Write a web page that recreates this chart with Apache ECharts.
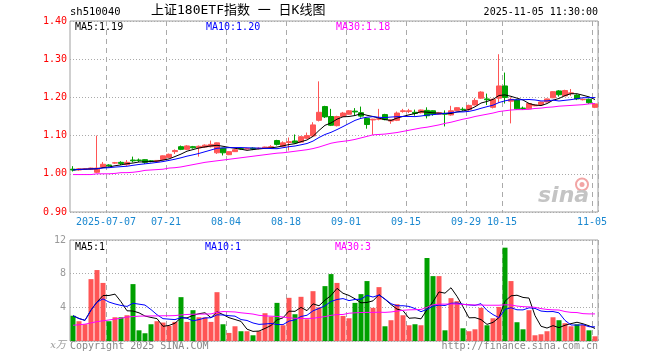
<!DOCTYPE html>
<html><head><meta charset="utf-8">
<script src="https://cdn.jsdelivr.net/npm/echarts@6/dist/echarts.min.js"></script>
<style>html,body{margin:0;padding:0;background:#fff}#c{width:660px;height:360px}</style>
</head><body><div id="c"></div>
<script>
const dates = [
'2025-06-27','2025-06-30',
'2025-07-01','2025-07-02','2025-07-03','2025-07-04','2025-07-07','2025-07-08','2025-07-09','2025-07-10','2025-07-11',
'2025-07-14','2025-07-15','2025-07-16','2025-07-17','2025-07-18','2025-07-21','2025-07-22','2025-07-23','2025-07-24','2025-07-25',
'2025-07-28','2025-07-29','2025-07-30','2025-07-31',
'2025-08-01','2025-08-04','2025-08-05','2025-08-06','2025-08-07','2025-08-08','2025-08-11','2025-08-12','2025-08-13','2025-08-14',
'2025-08-15','2025-08-18','2025-08-19','2025-08-20','2025-08-21','2025-08-22','2025-08-25','2025-08-26','2025-08-27','2025-08-28','2025-08-29',
'2025-09-01','2025-09-02','2025-09-03','2025-09-04','2025-09-05','2025-09-08','2025-09-09','2025-09-10','2025-09-11','2025-09-12',
'2025-09-15','2025-09-16','2025-09-17','2025-09-18','2025-09-19','2025-09-22','2025-09-23','2025-09-24','2025-09-25','2025-09-26',
'2025-09-29','2025-09-30',
'2025-10-09','2025-10-10','2025-10-13','2025-10-14','2025-10-15','2025-10-16','2025-10-17','2025-10-20','2025-10-21','2025-10-22',
'2025-10-23','2025-10-24','2025-10-27','2025-10-28','2025-10-29','2025-10-30','2025-10-31',
'2025-11-03','2025-11-04','2025-11-05'];

const opens = [1.012,1.010,1.012,1.012,1.004,1.018,1.023,1.028,1.030,1.024,
1.036,1.036,1.037,1.034,1.032,1.037,1.043,1.058,1.071,1.064,
1.071,1.068,1.070,1.071,1.055,1.067,1.050,1.058,1.066,1.065,
1.067,1.066,1.067,1.067,1.087,1.072,1.082,1.086,1.083,1.093,
1.099,1.140,1.176,1.150,1.126,1.150,1.156,1.164,1.160,1.145,
1.141,1.143,1.155,1.138,1.140,1.163,1.163,1.161,1.160,1.166,
1.165,1.156,1.158,1.154,1.166,1.169,1.168,1.180,1.198,1.196,
1.174,1.198,1.230,1.190,1.193,1.172,1.170,1.178,1.181,1.188,
1.199,1.217,1.204,1.210,1.206,1.194,1.195,1.174];
const closes = [1.010,1.013,1.013,1.015,1.015,1.025,1.021,1.029,1.027,1.030,
1.034,1.035,1.030,1.032,1.035,1.047,1.051,1.061,1.064,1.073,
1.068,1.072,1.075,1.077,1.081,1.055,1.058,1.063,1.065,1.066,
1.065,1.067,1.070,1.071,1.077,1.081,1.084,1.081,1.097,1.100,
1.128,1.161,1.149,1.127,1.150,1.159,1.165,1.162,1.151,1.129,
1.143,1.144,1.142,1.141,1.159,1.165,1.165,1.158,1.167,1.152,
1.156,1.160,1.156,1.165,1.173,1.168,1.179,1.192,1.214,1.194,
1.195,1.230,1.200,1.195,1.170,1.171,1.184,1.180,1.188,1.196,
1.215,1.207,1.218,1.212,1.196,1.195,1.186,1.183];
const lows = [1.006,1.008,1.011,1.010,1.002,1.016,1.019,1.026,1.023,1.021,
1.030,1.031,1.026,1.030,1.031,1.036,1.041,1.052,1.062,1.062,
1.066,1.045,1.068,1.069,1.052,1.048,1.049,1.057,1.063,1.064,
1.062,1.064,1.066,1.066,1.074,1.071,1.061,1.079,1.082,1.091,
1.097,1.137,1.146,1.125,1.124,1.149,1.155,1.152,1.147,1.118,
1.102,1.140,1.140,1.131,1.138,1.160,1.159,1.152,1.158,1.145,
1.152,1.155,1.124,1.152,1.165,1.165,1.165,1.179,1.196,1.180,
1.171,1.186,1.184,1.132,1.168,1.167,1.169,1.177,1.180,1.187,
1.198,1.202,1.203,1.204,1.193,1.192,1.183,1.172];
const highs = [1.020,1.015,1.015,1.016,1.100,1.031,1.025,1.031,1.033,1.036,
1.045,1.040,1.038,1.036,1.036,1.048,1.053,1.064,1.074,1.075,
1.073,1.074,1.077,1.087,1.082,1.068,1.059,1.065,1.068,1.068,
1.069,1.069,1.071,1.075,1.089,1.085,1.095,1.103,1.099,1.108,
1.135,1.242,1.178,1.170,1.152,1.162,1.167,1.172,1.176,1.146,
1.144,1.170,1.157,1.142,1.163,1.170,1.170,1.168,1.168,1.174,
1.166,1.162,1.166,1.178,1.174,1.174,1.181,1.198,1.216,1.210,
1.197,1.313,1.265,1.200,1.195,1.176,1.186,1.182,1.189,1.197,
1.216,1.219,1.220,1.222,1.208,1.197,1.197,1.185];
// volume, unit: 万 (x10k lots)
const volumes = [3.0,2.35,2.0,7.35,8.43,6.9,2.35,2.82,2.82,3.06,
6.76,1.27,0.92,1.99,2.35,2.19,1.79,2.27,5.21,2.27,
3.66,2.82,2.82,2.27,5.8,1.99,0.96,1.75,1.16,1.16,
0.68,1.16,3.3,2.9,4.53,1.87,5.13,3.18,5.25,2.59,
5.92,4.0,6.52,7.95,6.9,2.98,2.7,4.53,5.57,7.12,
3.94,6.4,1.75,2.47,4.37,3.06,1.87,1.99,1.87,9.86,
7.71,7.71,1.27,5.09,4.73,1.51,1.16,1.39,3.94,1.87,
2.7,4.05,11.09,7.12,2.23,1.39,3.66,0.68,0.8,1.16,
2.82,2.47,2.11,1.75,1.99,1.9,1.27,0.56];
// MA30 lines (need history before the window)
const priceMA30 = [0.998,0.998,0.998,0.998,1.000,1.000,1.000,1.001,1.003,1.003,
1.004,1.006,1.009,1.010,1.011,1.012,1.015,1.016,1.018,1.021,
1.024,1.027,1.030,1.032,1.034,1.036,1.038,1.040,1.042,1.044,
1.046,1.048,1.050,1.052,1.054,1.055,1.057,1.059,1.061,1.063,
1.066,1.070,1.075,1.080,1.083,1.085,1.087,1.090,1.094,1.098,
1.102,1.103,1.104,1.106,1.108,1.111,1.114,1.117,1.120,1.122,
1.125,1.128,1.132,1.135,1.139,1.143,1.146,1.150,1.153,1.156,
1.159,1.163,1.165,1.167,1.168,1.168,1.169,1.171,1.172,1.174,
1.175,1.177,1.178,1.179,1.180,1.181,1.183,1.184];
const volMA30 = [1.87,1.93,2.0,2.15,2.3,2.4,2.5,2.6,2.7,2.85,
2.9,2.95,2.97,2.98,2.98,3.0,3.0,3.02,3.1,3.15,
3.18,3.2,3.2,3.22,3.4,3.5,3.48,3.45,3.35,3.28,
3.2,3.05,2.98,2.95,2.92,2.85,2.75,2.7,2.68,2.68,
2.7,2.8,2.9,3.05,3.14,3.15,3.3,3.35,3.38,3.4,
3.4,3.42,3.4,3.45,3.55,3.65,3.7,3.72,3.75,4.0,
4.3,4.38,4.38,4.4,4.38,4.35,4.3,4.28,4.27,4.25,
4.25,4.25,4.3,4.28,4.15,4.08,4.05,4.0,3.85,3.75,
3.7,3.68,3.5,3.4,3.38,3.25,3.22,3.22];
const tickDates = ['2025-07-07','2025-07-21','2025-08-04','2025-08-18','2025-09-01','2025-09-15','2025-09-29','2025-10-15','2025-11-05'];
const tickLabels = ['2025-07-07','07-21','08-04','08-18','09-01','09-15','09-29','10-15','11-05'];
const priceTicks = [0.9, 1.4, 0.1];
const volTicks = [0, 12, 4];

function movingAvg(arr, n) {
  return arr.map((_, i) => {
    const s = Math.max(0, i - n + 1);
    let sum = 0;
    for (let k = s; k <= i; k++) sum += arr[k];
    return +(sum / (i - s + 1)).toFixed(4);
  });
}
const ma5 = movingAvg(closes, 5), ma10 = movingAvg(closes, 10);
const vma5 = movingAvg(volumes, 5), vma10 = movingAvg(volumes, 10);

const FONT = '"DejaVu Sans Mono", "Liberation Mono", monospace';
const RED = '#ff5555', GREEN = '#00a000';
const labelMap = {};
tickDates.forEach((d, i) => labelMap[d] = tickLabels[i]);
const labelIdx = new Set(tickDates.map(d => dates.indexOf(d)));
const showIdx = (i) => labelIdx.has(i);

const chart = echarts.init(document.getElementById('c'), null, {renderer: 'canvas'});
const last = a => a[a.length - 1];

const xBase = (gi, withLabel) => ({
  type: 'category', gridIndex: gi, data: dates, boundaryGap: true,
  axisLine: {show: false}, axisTick: {show: false},
  axisLabel: withLabel ? {
    interval: showIdx, formatter: v => labelMap[v] || '',
    color: '#1a88d0', fontFamily: FONT, fontSize: 10, margin: 5, padding: [0, 6, 0, 0]
  } : {show: false},
  splitLine: {show: true, interval: showIdx, lineStyle: {color: '#aaaaaa', width: 1, type: [5, 4]}}
});

const option = {
  animation: false,
  backgroundColor: '#ffffff',
  grid: [
    {left: 70, top: 21, width: 528, height: 191, show: true, borderColor: '#a0a0a0', borderWidth: 1},
    {left: 70, top: 240, width: 528, height: 101, show: true, borderColor: '#a0a0a0', borderWidth: 1}
  ],
  xAxis: [xBase(0, true), xBase(1, false)],
  yAxis: [
    {type: 'value', gridIndex: 0, min: priceTicks[0], max: priceTicks[1], interval: priceTicks[2],
     axisLine: {show: false}, axisTick: {show: false},
     axisLabel: {color: '#ff0000', fontFamily: FONT, fontSize: 10, margin: 3, formatter: v => v.toFixed(2)},
     splitLine: {lineStyle: {color: '#aaaaaa', type: [1, 2]}}},
    {type: 'value', gridIndex: 1, min: volTicks[0], max: volTicks[1], interval: volTicks[2],
     axisLine: {show: false}, axisTick: {show: false},
     axisLabel: {color: '#999999', fontFamily: FONT, fontSize: 10, margin: 4,
       formatter: v => v === 0 ? '{u|x万}' : String(v),
       rich: {u: {color: '#999999', fontStyle: 'italic', fontSize: 10, fontFamily: '"DejaVu Serif", "Noto Sans CJK SC", serif', padding: [8, 0, 0, 0]}}},
     splitLine: {lineStyle: {color: '#aaaaaa', type: [1, 2]}}}
  ],
  series: [
    {type: 'candlestick', xAxisIndex: 0, yAxisIndex: 0, barWidth: 5,
     data: dates.map((d, i) => [opens[i], closes[i], lows[i], highs[i]]),
     itemStyle: {color: RED, color0: GREEN, borderColor: RED, borderColor0: GREEN, borderWidth: 1}},
    {type: 'line', xAxisIndex: 0, yAxisIndex: 0, data: ma5, showSymbol: false, lineStyle: {color: '#000000', width: 1}},
    {type: 'line', xAxisIndex: 0, yAxisIndex: 0, data: ma10, showSymbol: false, lineStyle: {color: '#0000ff', width: 1}},
    {type: 'line', xAxisIndex: 0, yAxisIndex: 0, data: priceMA30, showSymbol: false, lineStyle: {color: '#ff00ff', width: 1}},
    {type: 'bar', xAxisIndex: 1, yAxisIndex: 1, barWidth: 5,
     data: volumes.map((v, i) => ({value: v, itemStyle: {color: closes[i] >= opens[i] ? RED : GREEN}}))},
    {type: 'line', xAxisIndex: 1, yAxisIndex: 1, data: vma5, showSymbol: false, lineStyle: {color: '#000000', width: 1}},
    {type: 'line', xAxisIndex: 1, yAxisIndex: 1, data: vma10, showSymbol: false, lineStyle: {color: '#0000ff', width: 1}},
    {type: 'line', xAxisIndex: 1, yAxisIndex: 1, data: volMA30, showSymbol: false, lineStyle: {color: '#ff00ff', width: 1}}
  ],
  graphic: [
    {type: 'text', left: 70, top: 7, z: 10, style: {text: 'sh510040', fill: '#000', font: '10.5px ' + FONT}},
    {type: 'text', left: 151, top: 4, z: 10, style: {text: '上证180ETF指数 一 日K线图', fill: '#000', font: '13px "DejaVu Sans Mono", "Noto Sans CJK SC", monospace'}},
    {type: 'text', right: 62, top: 7, z: 10, style: {text: '2025-11-05 11:30:00', fill: '#000', font: '10px ' + FONT}},
    {type: 'text', left: 75, top: 22, z: 10, style: {text: 'MA5:' + last(ma5).toFixed(2), fill: '#000', font: '10px ' + FONT}},
    {type: 'text', left: 206, top: 22, z: 10, style: {text: 'MA10:' + last(ma10).toFixed(2), fill: '#0000ff', font: '10px ' + FONT}},
    {type: 'text', left: 336, top: 22, z: 10, style: {text: 'MA30:' + last(priceMA30).toFixed(2), fill: '#ff00ff', font: '10px ' + FONT}},
    {type: 'text', left: 75, top: 242, z: 10, style: {text: 'MA5:' + Math.floor(last(vma5)), fill: '#000', font: '10px ' + FONT}},
    {type: 'text', left: 205, top: 242, z: 10, style: {text: 'MA10:' + Math.floor(last(vma10)), fill: '#0000ff', font: '10px ' + FONT}},
    {type: 'text', left: 335, top: 242, z: 10, style: {text: 'MA30:' + Math.floor(last(volMA30)), fill: '#ff00ff', font: '10px ' + FONT}},
    {type: 'text', left: 70, top: 341, z: 10, style: {text: 'Copyright 2025 SINA.COM', fill: '#888888', font: '10px ' + FONT}},
    {type: 'text', right: 62, top: 341, z: 10, style: {text: 'http://finance.sina.com.cn', fill: '#888888', font: '10px ' + FONT}},
    {type: 'group', left: 538, top: 176, z: 0, children: [
      {type: 'circle', shape: {cx: 44, cy: 9, r: 6}, style: {fill: 'none', stroke: '#f2a5a5', lineWidth: 2}},
      {type: 'circle', shape: {cx: 44, cy: 9, r: 2.5}, style: {fill: '#f2a5a5'}},
      {type: 'text', x: 0, y: 10, style: {text: 'sina', fill: '#c4c4c4', font: 'italic bold 22px "DejaVu Sans", sans-serif'}}
    ]}
  ]
};
chart.setOption(option);
</script>
</body></html>
